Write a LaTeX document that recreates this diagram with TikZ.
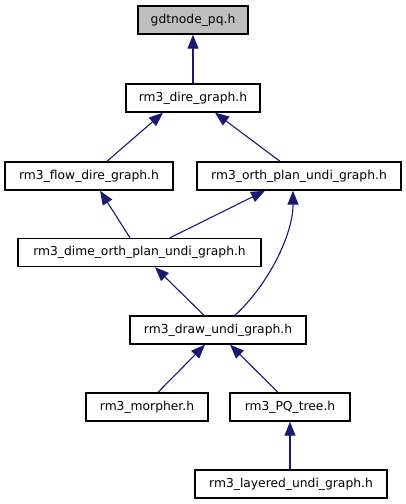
\documentclass[tikz,border=0pt]{standalone}
\usepackage{fontspec}
\setmainfont{DejaVu Sans}
\usetikzlibrary{arrows.meta}
\definecolor{edgeblue}{HTML}{191970}
\definecolor{rootgray}{HTML}{BFBFBF}
\tikzset{
  filebox/.style={draw=black, line width=1.4pt, fill=white, minimum height=28pt, inner sep=0pt, font=\fontsize{12.3}{14}\selectfont},
  dep/.style={draw=edgeblue, line width=1.1pt, -{Triangle[length=14pt,width=11pt]}}
}
\begin{document}
\begin{tikzpicture}[x=1pt,y=-1pt]
\useasboundingbox (0,0) rectangle (405,504);
\node[filebox, fill=rootgray, minimum width=110pt] (gdt) at (193,20) {gdtnode\_pq.h};
\node[filebox, minimum width=134pt] (dire) at (193,98) {rm3\_dire\_graph.h};
\node[filebox, minimum width=168pt] (flow) at (89,176) {rm3\_flow\_dire\_graph.h};
\node[filebox, minimum width=204pt] (orth) at (299,176) {rm3\_orth\_plan\_undi\_graph.h};
\node[filebox, minimum width=243pt] (dime) at (139.5,252.5) {rm3\_dime\_orth\_plan\_undi\_graph.h};
\node[filebox, minimum width=176pt] (draw) at (218,330) {rm3\_draw\_undi\_graph.h};
\node[filebox, minimum width=122pt] (morph) at (147,407) {rm3\_morpher.h};
\node[filebox, minimum width=120pt] (pq) at (290,407) {rm3\_PQ\_tree.h};
\node[filebox, minimum width=192pt] (layer) at (291,484) {rm3\_layered\_undi\_graph.h};

\draw[dep] (dire.north) -- (gdt.south);
\draw[dep] ([xshift=18pt]flow.north) -- ([xshift=-30pt]dire.south);
\draw[dep] ([xshift=-19pt]orth.north) -- ([xshift=22pt]dire.south);
\draw[dep] ([xshift=-9.5pt]dime.north) -- ([xshift=11pt]flow.south);
\draw[dep] ([xshift=30.5pt]dime.north) -- ([xshift=-34pt]orth.south);
\draw[dep] ([xshift=-14pt]draw.north) -- ([xshift=15.5pt]dime.south);
\draw[dep] ([xshift=17pt]draw.north) .. controls (268,285) and (293,235) .. ([xshift=-6pt]orth.south);
\draw[dep] ([xshift=11pt]morph.north) -- ([xshift=-13pt]draw.south);
\draw[dep] ([xshift=-12pt]pq.north) -- ([xshift=12pt]draw.south);
\draw[dep] ([xshift=-1pt]layer.north) -- (pq.south);
\end{tikzpicture}
\end{document}
